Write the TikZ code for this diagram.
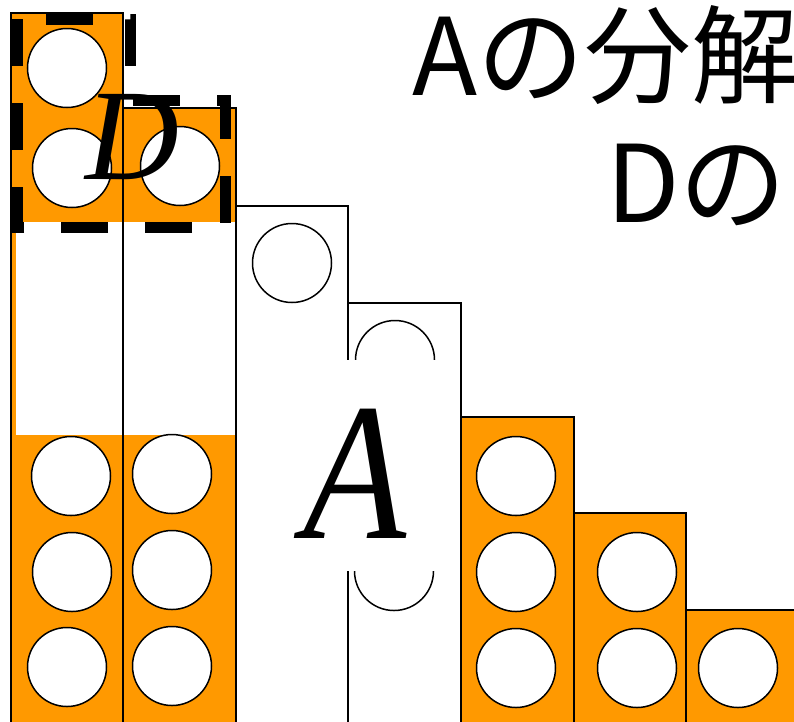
\documentclass[tikz,border=0pt]{standalone}
\usepackage{fontspec}
\setmainfont{Liberation Serif}
\newfontfamily\cjk{Noto Sans CJK JP}
\usetikzlibrary{positioning}
\definecolor{Block}{HTML}{FF9900}

\begin{document}
\begin{tikzpicture}[x=1pt,y=-1pt,
    hole/.style={circle,draw,fill=white,line width=1.5pt,minimum size=79pt,inner sep=0pt},
    edge/.style={draw,line width=1.5pt}]
  \useasboundingbox (0,0) rectangle (794,721);
  % orange blocks
  \fill[Block] (11,13) rectangle (123,725);
  \fill[Block] (123,108) rectangle (236,725);
  \fill[Block] (461,417) rectangle (574,725);
  \fill[Block] (574,513) rectangle (686,725);
  \fill[Block] (686,610) rectangle (800,725);
  % the part taken away
  \fill[white] (16,222) rectangle (236,435);
  % column outlines
  \foreach \xa/\xb/\yt in {11/123/13,123/236/108,236/348/206,348/461/303,461/574/417,574/686/513,686/800/610}
    \draw[edge] (\xa,725) -- (\xa,\yt) -- (\xb,\yt) -- (\xb,725);
  % holes
  \foreach \n/\x/\y in {d1/67/68,d2/72/168,d3/180/166,
      p1/71/476,p2/72/572,p3/67/667,q1/172/474,q2/172/570,q3/172/666,
      r1/292/263,s1/395/360,s2/394/571,
      t1/516/476,t2/516/572,t3/516/668,u1/637/572,u2/637/668,v1/738/668}
    \node[hole] (\n) at (\x,\y) {};
  % label A
  \node[fill=white,minimum width=170pt,minimum height=211pt,inner sep=0pt] (gapA) at (355,465.5) {};
  \node[font=\fontsize{196}{196}\selectfont\itshape,inner sep=0pt] (labA) at (355,474) {\scalebox{0.86}[1]{A}};
  % part D
  \draw[line width=11pt,dash pattern=on 47pt off 37pt,dash phase=55pt]
    (17,19) -- (130,19) -- (130,100) -- (225,100) -- (225,227) -- (17,227) -- cycle;
  \node[font=\fontsize{130}{130}\selectfont\itshape,inner sep=0pt] (labD) at (132,137) {D};
  % title
  \node[font=\fontsize{107}{107}\selectfont\cjk,anchor=base west,inner sep=0pt] (title1) at (412,95) {Aの分解};
  \node[font=\fontsize{107}{107}\selectfont\cjk,anchor=base west,inner sep=0pt] (title2) at (606,222) {Dの};
\end{tikzpicture}
\end{document}
